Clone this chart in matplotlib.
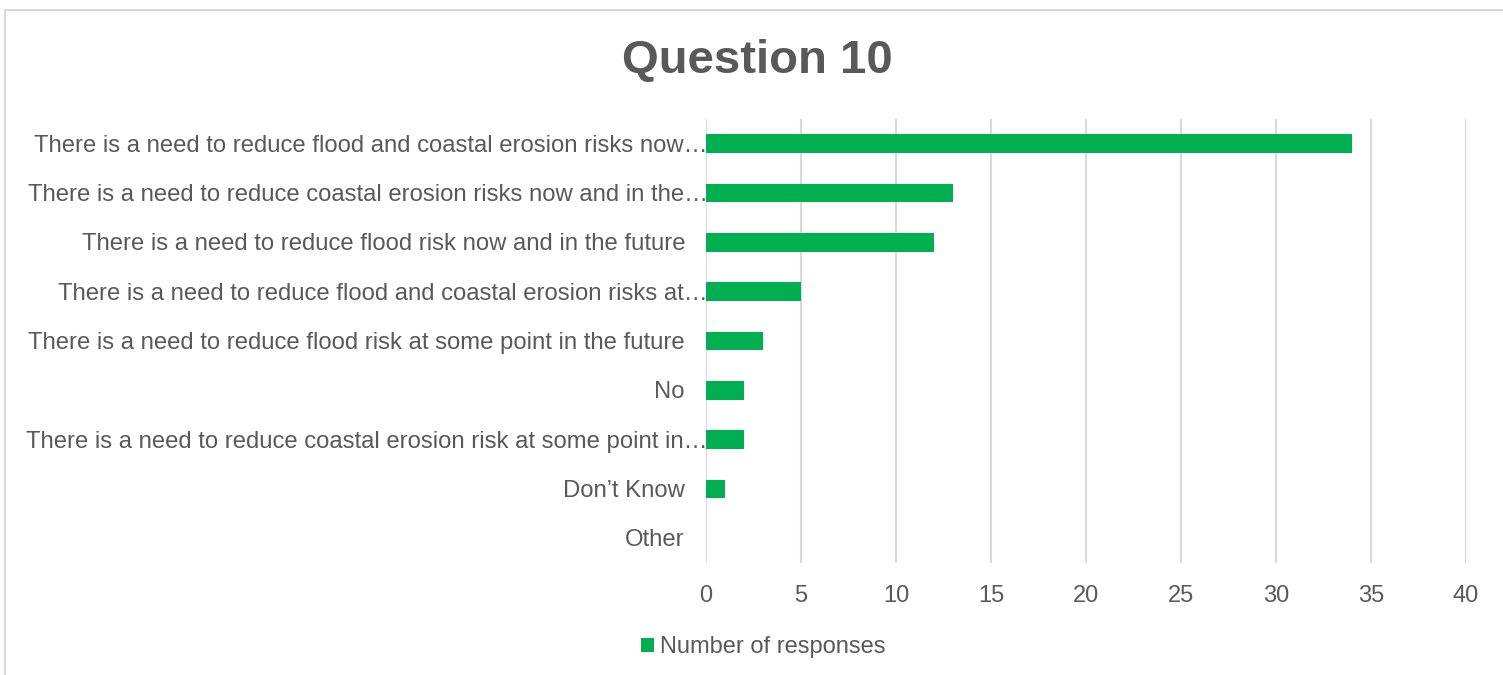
import matplotlib
matplotlib.use("Agg")
import matplotlib.pyplot as plt
import matplotlib.transforms as mtransforms
from matplotlib.patches import Patch
from matplotlib.lines import Line2D

categories = [
    "There is a need to reduce flood and coastal erosion risks now\u2026",
    "There is a need to reduce coastal erosion risks now and in the\u2026",
    "There is a need to reduce flood risk now and in the future",
    "There is a need to reduce flood and coastal erosion risks at\u2026",
    "There is a need to reduce flood risk at some point in the future",
    "No",
    "There is a need to reduce coastal erosion risk at some point in\u2026",
    "Don\u2019t Know",
    "Other",
]
values = [34, 13, 12, 5, 3, 2, 2, 1, 0]
xticks = [0, 5, 10, 15, 20, 25, 30, 35, 40]
title = "Question 10"
series_name = "Number of responses"

TEXT = "#595959"
GREEN = "#00B050"
GRID = "#D9D9D9"

plt.rcParams["font.family"] = ["Liberation Sans", "DejaVu Sans"]

W, H = 1503, 675
fig = plt.figure(figsize=(W / 100, H / 100), dpi=100)
ax = fig.add_axes([706 / W, 1 - 563 / H, 760 / W, 444 / H])

ypos = list(range(len(categories)))
ax.barh(ypos, values, height=0.38, color=GREEN, zorder=3)
ax.set_ylim(len(categories) - 0.5, -0.5)
ax.set_xlim(0, 40)
ax.set_xticks(xticks)
ax.set_xticklabels([str(t) for t in xticks])
ax.set_yticks(ypos)
ax.set_yticklabels([])
ax.tick_params(axis="both", length=0, labelsize=17, labelcolor=TEXT)
ax.tick_params(axis="x", pad=16)
ax.grid(axis="x", color=GRID, linewidth=1.5, zorder=0)
for s in ax.spines.values():
    s.set_visible(False)

# category labels (Excel-style: truncated labels overflow slightly to the right)
ytrans = ax.get_yaxis_transform()
for y, lab in zip(ypos, categories):
    dx = 2 if lab.endswith("\u2026") else -21
    tr = mtransforms.offset_copy(ytrans, fig=fig, x=dx, y=-2, units="dots")
    ax.text(0, y, lab, transform=tr, ha="right", va="center",
            fontsize=17.2, color=TEXT)

fig.text(0.504, 1 - 61 / H, title, ha="center", va="center",
         fontsize=34, fontweight="bold", color=TEXT)

handle = Patch(facecolor=GREEN, edgecolor="none")
fig.legend([handle], [series_name], loc="center", bbox_to_anchor=(0.508, 1 - 647 / H),
           frameon=False, fontsize=17, labelcolor=TEXT, handlelength=0.55,
           handleheight=0.55, handletextpad=0.25)

# outer chart border (top and left visible)
fig.add_artist(Line2D([5 / W, 5 / W, 1.0], [0.0, 1 - 10 / H, 1 - 10 / H],
                      transform=fig.transFigure, color=GRID, linewidth=1.5))

fig.savefig("out.png", dpi=100, facecolor="white")
